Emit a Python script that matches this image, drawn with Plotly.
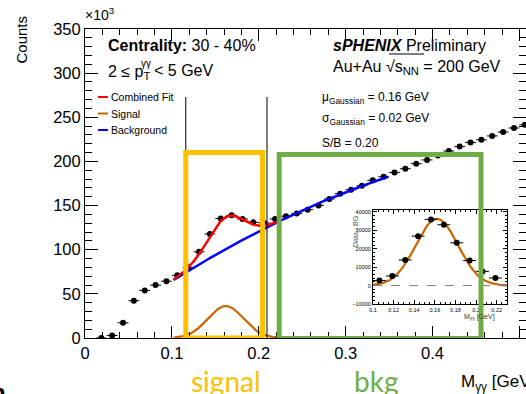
import numpy as np
import plotly.graph_objects as go

# ---------------- data ----------------
bin_centers = [0.01875, 0.03125, 0.04375, 0.05625, 0.06875, 0.08125, 0.09375,
               0.10625, 0.11875, 0.13125, 0.14375, 0.15625, 0.16875, 0.18125,
               0.19375, 0.20625, 0.21875, 0.23125, 0.24375, 0.25625, 0.26875,
               0.28125, 0.29375, 0.30625, 0.31875, 0.33125, 0.34375, 0.35625,
               0.36875, 0.38125, 0.39375, 0.40625, 0.41875, 0.43125, 0.44375,
               0.45625, 0.46875, 0.48125, 0.49375, 0.50625]
counts_k = [0.0, 2.8, 17.2, 42.3, 53.9, 59.9, 64.3,
            71.0, 80.0, 97.6, 117.8, 135.3, 139.0, 134.8,
            131.0, 130.3, 134.8, 137.9, 140.9, 145.4, 150.2,
            157.5, 163.5, 168.0, 172.5, 178.6, 182.6, 187.6,
            191.7, 197.4, 201.7, 206.7, 211.8, 216.8, 221.5,
            224.5, 228.9, 233.3, 237.9, 241.5]
bin_half_width = 0.00625

inset_x = [0.10625, 0.11875, 0.13125, 0.14375, 0.15625,
           0.16875, 0.18125, 0.19375, 0.20625, 0.21875]
inset_y = [2700, 5200, 13900, 26800, 35900, 33000, 23200, 13600, 7700, 4100]

# fit parameters (Gaussian signal + quadratic background, counts in 10^3)
sig_mu, sig_sigma, sig_amp = 0.162, 0.0205, 36200.0
bg_coef = [-3.7, 740.2, -591.3]
fit_range = [0.102, 0.2203]
bg_range = [0.102, 0.349]
window_lines_x = [0.116, 0.2095]
window_lines_top = 273.0
signal_box = [0.116, 0.2043, 0.0, 210.0]
bkg_box = [0.2235, 0.4558, -0.5, 207.8]

x_ticks_main = [0, 0.1, 0.2, 0.3, 0.4, 0.5]
y_ticks_main = [0, 50, 100, 150, 200, 250, 300, 350]

FONT = "Liberation Sans, Arial, sans-serif"
RED, BLUE, ORANGE = "#FF0000", "#0000FF", "#CC6600"
YELLOW, GREEN = "#FFC000", "#70AD47"


def gauss(x, amp):
    return amp * np.exp(-0.5 * ((x - sig_mu) / sig_sigma) ** 2)


def bg(x):
    return bg_coef[0] + bg_coef[1] * x + bg_coef[2] * x ** 2


xf = np.linspace(fit_range[0], fit_range[1], 200)
xb = np.linspace(bg_range[0], bg_range[1], 200)
xi = np.linspace(0.1, 0.23, 200)

fig = go.Figure()

# main data
fig.add_trace(go.Scatter(
    x=bin_centers, y=counts_k, mode="markers",
    marker=dict(color="black", size=6),
    error_x=dict(type="constant", value=bin_half_width, color="black",
                 thickness=1, width=0),
    cliponaxis=True, xaxis="x", yaxis="y"))
fig.add_trace(go.Scatter(x=xb, y=bg(xb), mode="lines",
                         line=dict(color=BLUE, width=2.5)))
fig.add_trace(go.Scatter(x=xf, y=bg(xf) + gauss(xf, sig_amp / 1000.0), mode="lines",
                         line=dict(color=RED, width=2.5)))
fig.add_trace(go.Scatter(x=xf, y=gauss(xf, sig_amp / 1000.0), mode="lines",
                         line=dict(color=ORANGE, width=2.2)))

# inset
fig.add_trace(go.Scatter(x=xi, y=gauss(xi, sig_amp), mode="lines",
                         line=dict(color=ORANGE, width=2.2),
                         xaxis="x2", yaxis="y2"))
fig.add_trace(go.Scatter(
    x=inset_x, y=inset_y, mode="markers",
    marker=dict(color="black", size=6),
    error_x=dict(type="constant", value=bin_half_width, color="black",
                 thickness=1, width=0),
    xaxis="x2", yaxis="y2"))

L, R, T, B = 85, 0, 29, 56
W, H = 526, 394
PW, PH = W - L - R, H - T - B


def px(x):
    return (x - L) / PW


def py(y):
    return (H - B - y) / PH


axis_common = dict(showline=True, linecolor="black", linewidth=1,
                   mirror="allticks", ticks="inside", showgrid=False,
                   zeroline=False, tickcolor="black")

fig.update_layout(
    width=W, height=H,
    margin=dict(l=L, r=R, t=T, b=B),
    paper_bgcolor="white", plot_bgcolor="white",
    showlegend=False,
    font=dict(family=FONT, color="black"),
    xaxis=dict(range=[0, 0.5076], tickvals=x_ticks_main,
               ticktext=[f"{v:g}" for v in x_ticks_main],
               ticklen=12, tickwidth=1,
               minor=dict(dtick=0.02, tick0=0, ticklen=6, ticks="inside",
                          tickcolor="black", showgrid=False),
               tickfont=dict(size=16.5, family=FONT), **axis_common),
    yaxis=dict(range=[0, 350], tickvals=y_ticks_main,
               ticktext=[str(v) for v in y_ticks_main],
               ticklen=13, tickwidth=1,
               minor=dict(dtick=10, tick0=0, ticklen=7, ticks="inside",
                          tickcolor="black", showgrid=False),
               tickfont=dict(size=16.5, family=FONT), **axis_common),
    xaxis2=dict(domain=[px(373), px(507)], anchor="y2", range=[0.1, 0.23],
                dtick=0.02, tick0=0.1, ticklen=4,
                minor=dict(dtick=0.005, ticklen=2, ticks="inside",
                           tickcolor="black"),
                tickfont=dict(size=5.5, family=FONT), **axis_common),
    yaxis2=dict(domain=[py(304), py(210)], anchor="x2", range=[-10000, 41000],
                dtick=10000, tickformat="d", ticklen=4,
                minor=dict(dtick=2000, ticklen=2, ticks="inside",
                           tickcolor="black"),
                tickfont=dict(size=5.5, family=FONT), **axis_common),
)

shapes = []
# window lines
for xv in window_lines_x:
    shapes.append(dict(type="line", xref="x", yref="y", x0=xv, x1=xv, y0=0,
                       y1=window_lines_top, line=dict(color="black", width=1)))
# inset zero line
shapes.append(dict(type="line", xref="x2", yref="y2", x0=0.1, x1=0.23, y0=0, y1=0,
                   line=dict(color="gray", width=1, dash="dash")))
# highlight boxes
for box, col in ((signal_box, YELLOW), (bkg_box, GREEN)):
    shapes.append(dict(type="rect", xref="x", yref="y", x0=box[0], x1=box[1],
                       y0=box[2], y1=box[3], line=dict(color=col, width=5),
                       fillcolor="rgba(0,0,0,0)", layer="above"))
# legend lines
for yy, col in ((97, RED), (113.5, ORANGE), (130, BLUE)):
    shapes.append(dict(type="line", xref="paper", yref="paper", x0=px(98), x1=px(108),
                       y0=py(yy), y1=py(yy), line=dict(color=col, width=2)))
# sqrt overline
shapes.append(dict(type="line", xref="paper", yref="paper", x0=px(389), x1=px(424),
                   y0=py(54), y1=py(54), line=dict(color="black", width=1)))
fig.update_layout(shapes=shapes)


def ann(text, x, y, size, xanchor="left", color="black", angle=0, family=FONT):
    fig.add_annotation(text=text, xref="paper", yref="paper", x=px(x), y=py(y),
                       xanchor=xanchor, yanchor="middle", showarrow=False,
                       textangle=angle, font=dict(size=size, color=color, family=family))


ann("×10<sup>3</sup>", 83, 14, 14)
ann("Counts", 21.5, 39, 15, xanchor="center", angle=-90)
ann("<b>Centrality:</b> 30 - 40%", 106, 45, 16)
ann("2 ≤ p<sub>T</sub>", 106, 72, 16)
ann("γγ", 139, 63, 10)
ann("< 5 GeV", 152, 70, 16)
ann("<b><i>sPHENIX</i></b> Preliminary", 331, 45, 16)
ann("Au+Au √s<sub>NN</sub> = 200 GeV", 331, 67, 16)
ann("μ<sub>Gaussian</sub> = 0.16 GeV", 320, 98, 12)
ann("σ<sub>Gaussian</sub> = 0.02 GeV", 320, 119, 12)
ann("S/B = 0.20", 320, 143, 12)
ann("Combined Fit", 109, 97, 10.5)
ann("Signal", 109, 113.5, 10.5)
ann("Background", 109, 130, 10.5)
ann("signal", 226, 381, 28, xanchor="center", color=YELLOW, family="Lato, sans-serif")
ann("bkg", 376, 381, 28, xanchor="center", color=GREEN, family="Lato, sans-serif")
ann("M<sub>γγ</sub> [GeV]", 459, 383, 17)
ann("Data - BG", 355, 232, 7, xanchor="center", color="#555555", angle=-90)
ann("M<sub>γγ</sub> [GeV]", 497, 317, 7, xanchor="right", color="#333333")
ann("<b>n</b>", 8, 392, 24, xanchor="right")

fig.write_html("out.html")
